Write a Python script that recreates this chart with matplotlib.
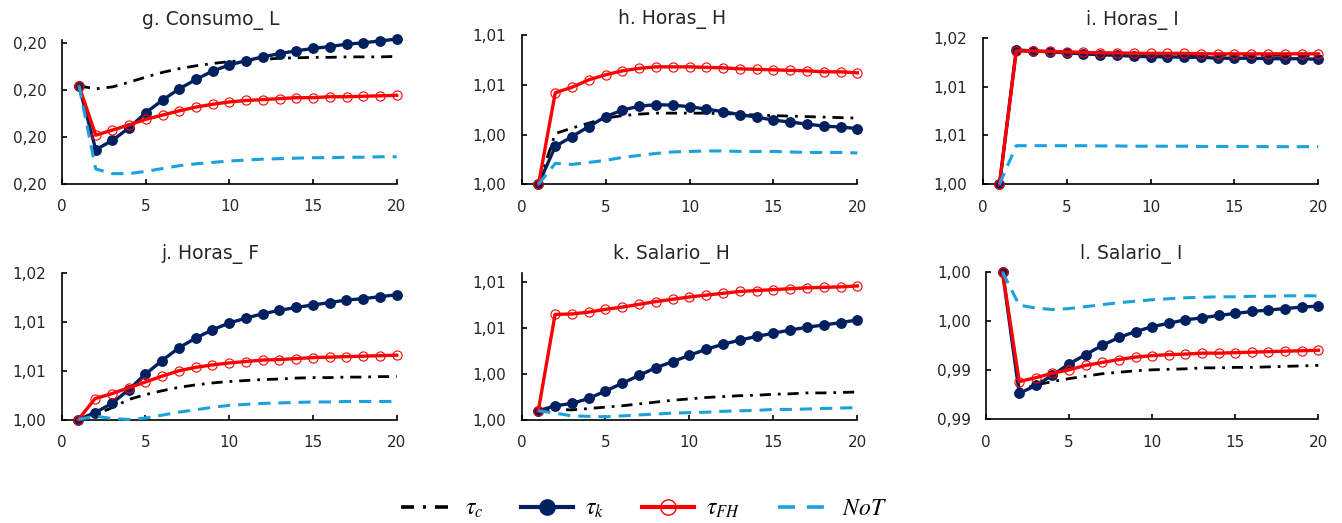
import matplotlib
matplotlib.use("Agg")
import matplotlib.pyplot as plt
from matplotlib.lines import Line2D
from matplotlib.ticker import FuncFormatter, FixedLocator

plt.rcParams['font.family'] = ['DejaVu Sans']
plt.rcParams['mathtext.fontset'] = 'stix'

# ---------------- data ----------------
periods = list(range(1, 21))
x_ticks = [0, 5, 10, 15, 20]

titles = ["g. Consumo_ L", "h. Horas_ H", "i. Horas_ I",
          "j. Horas_ F", "k. Salario_ H", "l. Salario_ I"]
series_labels = [r"$\tau_c$", r"$\tau_k$", r"$\tau_{FH}$", r"$NoT$"]

# g. Consumo_L
g_tau_c = [0.20104, 0.20101, 0.20103, 0.20108, 0.201135, 0.201185, 0.201225, 0.201255, 0.20128, 0.2013,
           0.201315, 0.201325, 0.201335, 0.20134, 0.201345, 0.201345, 0.20135, 0.20135, 0.20135, 0.201355]
g_tau_k = [0.20104, 0.20036, 0.20046, 0.200595, 0.200755, 0.20089, 0.20101, 0.20111, 0.2012, 0.201265,
           0.20131, 0.20135, 0.201385, 0.201415, 0.20144, 0.20146, 0.201485, 0.2015, 0.20152, 0.20154]
g_tau_fh = [0.20104, 0.200515, 0.20057, 0.200625, 0.200685, 0.20073, 0.200775, 0.200815, 0.200845, 0.20087,
            0.200885, 0.200895, 0.200905, 0.200915, 0.200915, 0.200925, 0.200925, 0.20093, 0.200935, 0.20094]
g_not = [0.20104, 0.200155, 0.200105, 0.200105, 0.20013, 0.20016, 0.20019, 0.20021, 0.200225, 0.20024,
         0.20025, 0.20026, 0.200265, 0.20027, 0.200275, 0.200275, 0.20028, 0.20028, 0.200285, 0.200285]

# h. Horas_H
h_tau_c = [1.0, 1.00408, 1.00452, 1.00492, 1.00532, 1.00552, 1.00564, 1.00572, 1.00572, 1.00572,
           1.00572, 1.00568, 1.00564, 1.00556, 1.00552, 1.00548, 1.00544, 1.0054, 1.00536, 1.00532]
h_tau_k = [1.0, 1.00304, 1.00384, 1.00464, 1.00544, 1.00596, 1.00628, 1.0064, 1.00636, 1.00624,
           1.00604, 1.00584, 1.0056, 1.0054, 1.00516, 1.005, 1.00484, 1.00468, 1.0046, 1.00448]
h_tau_fh = [1.0, 1.00736, 1.0078, 1.0084, 1.0088, 1.00912, 1.00932, 1.00944, 1.00944, 1.00944,
            1.0094, 1.00936, 1.00928, 1.00924, 1.0092, 1.00916, 1.00912, 1.00904, 1.00904, 1.00896]
h_not = [1.0, 1.00168, 1.0016, 1.00176, 1.00192, 1.00216, 1.00232, 1.00248, 1.0026, 1.00264,
         1.00268, 1.00268, 1.00264, 1.00264, 1.00264, 1.0026, 1.00256, 1.00256, 1.00256, 1.00252]

# i. Horas_I
i_tau_c = [1.0, 1.01638, 1.01632, 1.01626, 1.0162, 1.01614, 1.01608, 1.01602, 1.01599, 1.01596,
           1.01593, 1.0159, 1.0159, 1.01587, 1.01587, 1.01584, 1.01584, 1.01584, 1.01581, 1.01581]
i_tau_k = [1.0, 1.0165, 1.01638, 1.01626, 1.01614, 1.01602, 1.0159, 1.01584, 1.01572, 1.01566,
           1.01566, 1.0156, 1.0156, 1.01548, 1.01548, 1.01548, 1.01542, 1.01542, 1.01542, 1.01536]
i_tau_fh = [1.0, 1.01638, 1.01638, 1.01632, 1.01626, 1.0162, 1.01614, 1.01614, 1.01608, 1.01608,
            1.01608, 1.01608, 1.01602, 1.01602, 1.01602, 1.01602, 1.01602, 1.01602, 1.01602, 1.01602]
i_not = [1.0, 1.00474, 1.00474, 1.00474, 1.00474, 1.00474, 1.00471, 1.00471, 1.00468, 1.00468,
         1.00468, 1.00468, 1.00465, 1.00465, 1.00465, 1.00465, 1.00462, 1.00462, 1.00462, 1.00462]

# j. Horas_F
j_tau_c = [1.0, 1.0006, 1.00144, 1.00246, 1.00306, 1.00354, 1.00396, 1.00426, 1.0045, 1.00468,
           1.0048, 1.00492, 1.00498, 1.0051, 1.00516, 1.00516, 1.00522, 1.00522, 1.00528, 1.00528]
j_tau_k = [1.0, 1.00084, 1.00198, 1.00366, 1.00558, 1.00726, 1.00882, 1.01002, 1.01104, 1.01188,
           1.01248, 1.01302, 1.01344, 1.0138, 1.0141, 1.0144, 1.0147, 1.01488, 1.01512, 1.01536]
j_tau_fh = [1.0, 1.00258, 1.00318, 1.0039, 1.00462, 1.00534, 1.006, 1.00642, 1.00672, 1.00696,
            1.00714, 1.00732, 1.00738, 1.0075, 1.00762, 1.00768, 1.00774, 1.0078, 1.00786, 1.00792]
j_not = [1.0, 1.00042, 1.00012, 1.0, 1.00018, 1.00054, 1.0009, 1.0012, 1.0015, 1.00174,
         1.00186, 1.00198, 1.00204, 1.0021, 1.00216, 1.00216, 1.00222, 1.00222, 1.00222, 1.00222]

# k. Salario_H
k_tau_c = [1.0, 1.00012, 1.00008, 1.0002, 1.00032, 1.00044, 1.0006, 1.00076, 1.00092, 1.00104,
           1.00116, 1.00124, 1.00132, 1.00136, 1.00144, 1.00148, 1.00156, 1.00156, 1.0016, 1.00164]
k_tau_k = [1.0, 1.00044, 1.00064, 1.00108, 1.00172, 1.0024, 1.00308, 1.00376, 1.00428, 1.00484,
           1.00536, 1.0058, 1.00616, 1.00648, 1.00676, 1.00704, 1.00728, 1.00748, 1.00768, 1.00792]
k_tau_fh = [1.0, 1.0084, 1.00844, 1.0086, 1.00884, 1.00904, 1.00928, 1.00952, 1.00972, 1.00992,
            1.01008, 1.01024, 1.0104, 1.01048, 1.01056, 1.01064, 1.01072, 1.01076, 1.0108, 1.01088]
k_not = [1.0, 0.9998, 0.99956, 0.99952, 0.99948, 0.99956, 0.99964, 0.99972, 0.9998, 0.99984,
         0.99988, 0.99996, 1.0, 1.00004, 1.00012, 1.00012, 1.00016, 1.0002, 1.00024, 1.00028]

# l. Salario_I
l_tau_c = [1.0, 0.9904, 0.9908, 0.99108, 0.99132, 0.99152, 0.99172, 0.99184, 0.99196, 0.99204,
           0.99208, 0.99212, 0.9922, 0.9922, 0.99224, 0.99224, 0.99228, 0.99232, 0.99236, 0.9924]
l_tau_k = [1.0, 0.99012, 0.99076, 0.9916, 0.99252, 0.99328, 0.99404, 0.99468, 0.99516, 0.99556,
           0.99584, 0.99612, 0.99628, 0.99648, 0.99664, 0.9968, 0.99692, 0.99704, 0.99716, 0.99724]
l_tau_fh = [1.0, 0.99108, 0.9914, 0.99176, 0.99204, 0.9924, 0.99264, 0.99288, 0.99308, 0.9932,
            0.99328, 0.99332, 0.9934, 0.9934, 0.99344, 0.99348, 0.99352, 0.99356, 0.9936, 0.99364]
l_not = [1.0, 0.99732, 0.99708, 0.99696, 0.99704, 0.9972, 0.99736, 0.99752, 0.99764, 0.99776,
         0.99784, 0.99792, 0.99796, 0.998, 0.998, 0.99804, 0.99804, 0.99808, 0.99808, 0.99808]

# y-axis ticks of each panel (labels are these values with 2 decimals)
g_yticks = [0.2000, 0.2005, 0.2010, 0.2015]
h_yticks = [1.000, 1.004, 1.008, 1.012]
i_yticks = [1.000, 1.006, 1.012, 1.018]
j_yticks = [1.000, 1.006, 1.012, 1.018]
k_yticks = [0.9992, 1.0032, 1.0072, 1.0112]
l_yticks = [0.988, 0.992, 0.996, 1.000]
y_max = [0.20153, 1.012, 1.018, 1.018, 1.012, 1.000]

panel_data = [
    (g_tau_c, g_tau_k, g_tau_fh, g_not, g_yticks),
    (h_tau_c, h_tau_k, h_tau_fh, h_not, h_yticks),
    (i_tau_c, i_tau_k, i_tau_fh, i_not, i_yticks),
    (j_tau_c, j_tau_k, j_tau_fh, j_not, j_yticks),
    (k_tau_c, k_tau_k, k_tau_fh, k_not, k_yticks),
    (l_tau_c, l_tau_k, l_tau_fh, l_not, l_yticks),
]

# ---------------- layout / style ----------------
W, H = 1342, 523
# pixel boxes: (x left, x right, y bottom, y top) measured from the top-left corner
boxes = [
    (62.3, 396.7, 183.5, 40.0),
    (521.7, 857.3, 184.3, 35.0),
    (982.7, 1318.3, 184.3, 37.7),
    (61.6, 396.7, 419.5, 273.3),
    (521.5, 857.3, 420.0, 273.1),
    (986.0, 1318.3, 419.3, 272.3),
]
title_pos = [(211, 25), (672, 24), (1132, 25), (210, 259), (671, 259), (1131.5, 259)]

C_BLACK = "#000000"
C_NAVY = "#002060"
C_RED = "#FF0000"
C_BLUE = "#1BA1DC"
C_TEXT = "#262626"

dashdot = (0, (4, 2.5, 1, 2.5))
dashed = (0, (4, 2.6))

fig = plt.figure(figsize=(W / 100, H / 100), dpi=100)

fmt = FuncFormatter(lambda v, p: f"{v:.2f}".replace(".", ","))

for idx, (tc, tk, tf, tn, yt) in enumerate(panel_data):
    xl, xr, yb, ytp = boxes[idx]
    ax = fig.add_axes([xl / W, (H - yb) / H, (xr - xl) / W, (yb - ytp) / H])
    ax.plot(periods, tc, color=C_BLACK, lw=2.0, ls=dashdot, clip_on=False, zorder=3)
    ax.plot(periods, tk, color=C_NAVY, lw=2.4, marker="o", ms=6.8, mfc=C_NAVY,
            mec=C_NAVY, clip_on=False, zorder=4)
    ax.plot(periods, tf, color=C_RED, lw=2.4, marker="o", ms=6.6, mfc="none",
            mec=C_RED, mew=0.8, clip_on=False, zorder=5)
    ax.plot(periods, tn, color=C_BLUE, lw=2.2, ls=dashed, clip_on=False, zorder=6)

    ax.set_xlim(0, 20)
    ax.set_ylim(yt[0], y_max[idx])
    ax.xaxis.set_major_locator(FixedLocator(x_ticks))
    ax.yaxis.set_major_locator(FixedLocator(yt))
    ax.yaxis.set_major_formatter(fmt)
    for s in ("top", "right"):
        ax.spines[s].set_visible(False)
    for s in ("left", "bottom"):
        ax.spines[s].set_linewidth(1.2)
        ax.spines[s].set_color("#000000")
    ax.tick_params(direction="in", length=3.8, width=1.2, labelsize=11,
                   colors="#000000", labelcolor=C_TEXT)
    ax.tick_params(axis="y", pad=11)
    ax.tick_params(axis="x", pad=11)
    ax.set_facecolor("none")

    tx, ty = title_pos[idx]
    fig.text(tx / W, (H - ty) / H, titles[idx], ha="center", va="baseline",
             fontsize=13.5, color=C_TEXT)

handles = [
    Line2D([], [], color=C_BLACK, lw=2.6, ls=(0, (3.6, 2.5, 0.8, 2.5))),
    Line2D([], [], color=C_NAVY, lw=3.0, marker="o", ms=11, mfc=C_NAVY, mec=C_NAVY),
    Line2D([], [], color=C_RED, lw=3.0, marker="o", ms=11, mfc="none", mec=C_RED, mew=1.0),
    Line2D([], [], color=C_BLUE, lw=2.6, ls=(0, (4.7, 3.3))),
]
fig.legend(handles, series_labels, loc="center", ncol=4,
           bbox_to_anchor=(644 / W, (H - 508) / H), frameon=False,
           fontsize=17, handlelength=2.2, handletextpad=0.5, columnspacing=1.6,
           numpoints=1)

fig.savefig("out.png", dpi=100)
